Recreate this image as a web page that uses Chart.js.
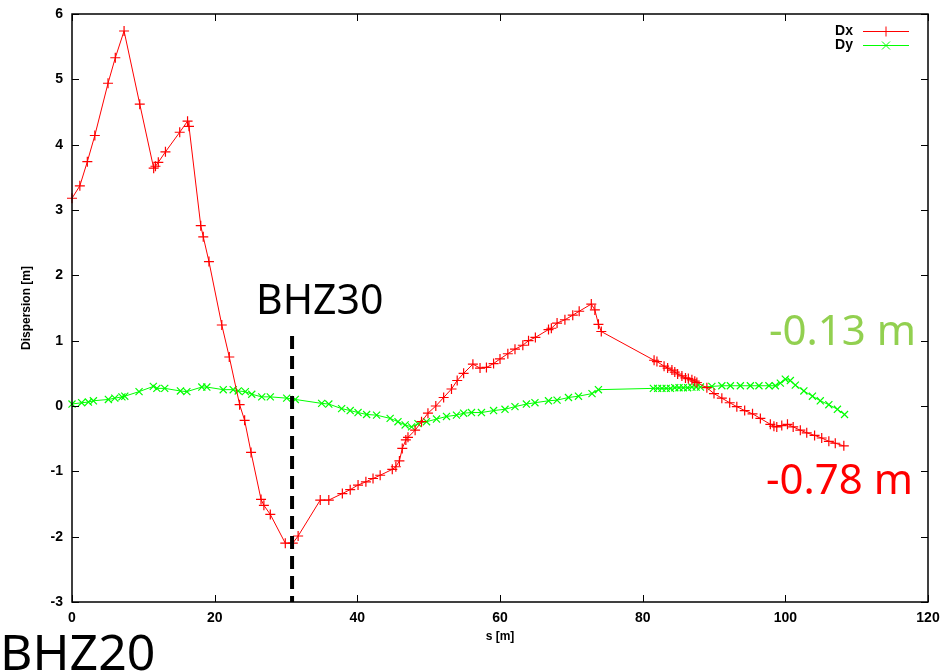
<!DOCTYPE html>
<html>
<head>
<meta charset="utf-8">
<script src="https://cdn.jsdelivr.net/npm/chart.js@4.4.1/dist/chart.umd.min.js"></script>
<style>
  html, body { margin: 0; padding: 0; background: #fff; }
  #wrap { position: relative; width: 945px; height: 672px; }
</style>
</head>
<body>
<div id="wrap"><canvas id="dispChart" width="945" height="672"></canvas></div>
<script>
// horizontal dispersion along the line
const sDx = [0, 1.1, 2.15, 3.2, 5.05, 6.07, 7.3, 9.5, 11.45, 11.7, 12.1, 13.1, 15.1, 16.2, 16.4, 18.05, 18.4, 19.2, 21.0, 22.05,
    23.5, 24.2, 25.1, 26.5, 26.9, 27.8, 29.9, 30.95, 31.7, 34.8, 36.0, 37.9, 39.0, 40.1, 41.2, 42.2, 43.2, 44.9, 45.4, 45.9,
    46.3, 46.8, 47.1, 48.1, 49.0, 49.9, 51.0, 52.1, 53.2, 54.0, 54.9, 56.2, 57.2, 58.1, 59.1, 60.0, 61.1, 62.1, 63.2, 64.0,
    64.96, 66.8, 67.2, 68.0, 69.1, 70.2, 71.1, 72.8, 73.3, 73.8, 74.2, 81.6, 82.0, 83.0, 83.5, 84.1, 84.5, 84.9, 85.5, 86.0,
    86.4, 86.9, 87.3, 87.6, 89.0, 90.0, 91.1, 92.2, 93.2, 94.3, 95.4, 96.5, 97.9, 98.4, 98.8, 99.5, 100.3, 101.1, 102.1, 103.0,
    104.1, 105.1, 106.1, 107.0, 108.2];
const dx = [3.18, 3.37, 3.74, 4.14, 4.94, 5.33, 5.74, 4.62, 3.64, 3.67, 3.73, 3.89, 4.19, 4.36, 4.28, 2.76, 2.59, 2.21, 1.24, 0.75,
    0.02, -0.22, -0.71, -1.43, -1.52, -1.66, -2.10, -2.10, -1.99, -1.44, -1.44, -1.34, -1.28, -1.21, -1.16, -1.11, -1.06, -0.97, -0.93, -0.84,
    -0.65, -0.52, -0.48, -0.37, -0.24, -0.11, 0.0, 0.13, 0.26, 0.39, 0.50, 0.64, 0.58, 0.59, 0.65, 0.72, 0.80, 0.87, 0.93, 1.0,
    1.05, 1.17, 1.19, 1.27, 1.32, 1.39, 1.45, 1.56, 1.47, 1.25, 1.14, 0.70, 0.68, 0.61, 0.58, 0.55, 0.52, 0.49, 0.46, 0.43,
    0.42, 0.40, 0.38, 0.36, 0.28, 0.19, 0.12, 0.05, -0.01, -0.07, -0.12, -0.19, -0.28, -0.31, -0.32, -0.30, -0.28, -0.32, -0.37, -0.41,
    -0.45, -0.49, -0.54, -0.57, -0.61];

// vertical dispersion
const sDy = [0, 1.35, 2.3, 3.0, 5.1, 6.0, 7.0, 7.4, 9.4, 11.4, 11.9, 13.0, 15.2, 16.1, 18.2, 18.9, 21.2, 22.6, 23.3, 24.3,
    25.2, 26.6, 27.8, 30.1, 31.3, 35.0, 36.0, 37.8, 39.0, 40.1, 41.3, 42.7, 44.6, 45.7, 46.7, 47.6, 48.5, 49.7, 51.1, 52.5,
    53.9, 54.9, 56.0, 57.4, 59.1, 60.7, 62.1, 63.7, 64.9, 66.8, 68.0, 69.6, 71.0, 72.9, 73.8, 81.5, 82.1, 82.7, 83.3, 83.9,
    84.5, 85.1, 85.7, 86.3, 86.9, 87.5, 88.1, 89.7, 91.1, 92.3, 93.7, 95.1, 96.3, 97.7, 98.6, 99.3, 100.0, 100.7, 101.4, 102.6,
    103.8, 104.9, 106.1, 107.3, 108.3];
const dy = [0.03, 0.05, 0.06, 0.08, 0.10, 0.12, 0.14, 0.15, 0.22, 0.30, 0.27, 0.27, 0.23, 0.22, 0.29, 0.29, 0.25, 0.25, 0.23, 0.22,
    0.18, 0.14, 0.14, 0.12, 0.10, 0.04, 0.03, -0.04, -0.07, -0.10, -0.13, -0.14, -0.19, -0.24, -0.29, -0.32, -0.27, -0.24, -0.20, -0.16,
    -0.14, -0.11, -0.10, -0.10, -0.07, -0.05, -0.01, 0.03, 0.05, 0.08, 0.09, 0.13, 0.15, 0.19, 0.25, 0.27, 0.27, 0.27, 0.27, 0.27,
    0.28, 0.28, 0.28, 0.28, 0.29, 0.29, 0.29, 0.30, 0.31, 0.31, 0.31, 0.31, 0.31, 0.31, 0.31, 0.35, 0.41, 0.39, 0.32, 0.23,
    0.15, 0.08, 0.02, -0.05, -0.13];

// BHZ30 location and the span of its marker line
const bhz30S = [30.85, 30.85];
const bhz30Y = [1.07, -3];

const xTicks = [0, 20, 40, 60, 80, 100, 120];
const yTicks = [-3, -2, -1, 0, 1, 2, 3, 4, 5, 6];

const zip = (xs, ys) => xs.map((x, i) => ({x: x, y: ys[i]}));

const tickFont = {family: '"Liberation Sans Narrow", "Liberation Sans", Arial, sans-serif', size: 14, weight: 'bold'};

// gnuplot-like frame, inward ticks, axis titles, legend and notes
const framePlugin = {
    id: 'frame',
    afterDraw(chart) {
        const ctx = chart.ctx;
        const a = chart.chartArea;
        const xs = chart.scales.x, ys = chart.scales.y;
        ctx.save();
        ctx.strokeStyle = '#000';
        ctx.lineWidth = 1.5;
        ctx.strokeRect(a.left, a.top, a.right - a.left, a.bottom - a.top);

        ctx.lineWidth = 1;
        ctx.beginPath();
        xTicks.forEach(v => {
            const px = Math.round(xs.getPixelForValue(v)) + 0.5;
            ctx.moveTo(px, a.bottom); ctx.lineTo(px, a.bottom - 7);
            ctx.moveTo(px, a.top); ctx.lineTo(px, a.top + 7);
        });
        yTicks.forEach(v => {
            const py = Math.round(ys.getPixelForValue(v)) + 0.5;
            ctx.moveTo(a.left, py); ctx.lineTo(a.left + 7, py);
            ctx.moveTo(a.right, py); ctx.lineTo(a.right - 7, py);
        });
        ctx.stroke();

        // axis titles
        ctx.fillStyle = '#000';
        ctx.font = 'bold 12px "Liberation Sans Narrow", "Liberation Sans", Arial, sans-serif';
        ctx.textAlign = 'center';
        ctx.textBaseline = 'middle';
        ctx.fillText('s [m]', (a.left + a.right) / 2, 637);
        ctx.save();
        ctx.translate(27, (a.top + a.bottom) / 2);
        ctx.rotate(-Math.PI / 2);
        ctx.fillText('Dispersion [m]', 0, 0);
        ctx.restore();

        // legend
        ctx.font = 'bold 14px "Liberation Sans Narrow", "Liberation Sans", Arial, sans-serif';
        ctx.textAlign = 'right';
        const items = [
            {label: 'Dx', color: '#ff0000', y: 31, style: 'plus'},
            {label: 'Dy', color: '#00ff00', y: 45, style: 'x'}
        ];
        items.forEach(it => {
            ctx.fillStyle = '#000';
            ctx.fillText(it.label, 853, it.y);
            ctx.strokeStyle = it.color;
            ctx.lineWidth = 1;
            ctx.beginPath();
            ctx.moveTo(863, it.y + 0.5); ctx.lineTo(909, it.y + 0.5);
            if (it.style === 'plus') {
                ctx.moveTo(881, it.y + 0.5); ctx.lineTo(891, it.y + 0.5);
                ctx.moveTo(886, it.y - 4.5); ctx.lineTo(886, it.y + 5.5);
            } else {
                ctx.moveTo(882, it.y - 3.5); ctx.lineTo(890, it.y + 4.5);
                ctx.moveTo(890, it.y - 3.5); ctx.lineTo(882, it.y + 4.5);
            }
            ctx.stroke();
        });

        // annotations
        ctx.textAlign = 'left';
        ctx.textBaseline = 'alphabetic';
        ctx.fillStyle = '#000';
        ctx.font = '41px "Noto Sans", "Open Sans", sans-serif';
        ctx.fillText('BHZ30', 256, 314);
        ctx.font = '50px "Noto Sans", "Open Sans", sans-serif';
        ctx.fillText('BHZ20', 0, 670);
        ctx.font = '42px "Noto Sans", "Open Sans", sans-serif';
        ctx.fillStyle = '#92d050';
        ctx.fillText('-0.13 m', 769, 345);
        ctx.fillStyle = '#ff0000';
        ctx.fillText('-0.78 m', 766, 494);
        ctx.restore();
    }
};

const ctx = document.getElementById('dispChart').getContext('2d');
const dispChart = new Chart(ctx, {
    type: 'scatter',
    data: {
        datasets: [
            {
                label: 'BHZ30',
                data: zip(bhz30S, bhz30Y),
                showLine: true,
                borderColor: '#000',
                borderWidth: 4,
                borderDash: [13, 7],
                pointRadius: 0,
                order: 0
            },
            {
                label: 'Dx',
                data: zip(sDx, dx),
                showLine: true,
                borderColor: '#ff0000',
                backgroundColor: '#ff0000',
                borderWidth: 1,
                pointStyle: 'cross',
                pointRadius: 5,
                pointBorderWidth: 1.2,
                order: 1
            },
            {
                label: 'Dy',
                data: zip(sDy, dy),
                showLine: true,
                borderColor: '#00ff00',
                backgroundColor: '#00ff00',
                borderWidth: 1,
                pointStyle: 'crossRot',
                pointRadius: 5,
                pointBorderWidth: 1.2,
                order: 2
            }
        ]
    },
    options: {
        responsive: false,
        animation: false,
        clip: false,
        layout: {padding: {left: 0, top: 14, right: 17, bottom: 0}},
        plugins: {legend: {display: false}, tooltip: {enabled: false}},
        scales: {
            x: {
                type: 'linear',
                min: 0, max: 120,
                afterFit(scale) {
                    scale.height = 70;
                    scale.paddingLeft = 0;
                    scale.paddingRight = 0;
                },
                afterBuildTicks(scale) { scale.ticks = xTicks.map(v => ({value: v})); },
                grid: {display: false, drawTicks: false},
                border: {display: false},
                ticks: {color: '#000', font: tickFont, padding: 8, maxRotation: 0}
            },
            y: {
                type: 'linear',
                min: -3, max: 6,
                afterFit(scale) {
                    scale.width = 72;
                    scale.paddingTop = 0;
                    scale.paddingBottom = 0;
                },
                afterBuildTicks(scale) { scale.ticks = yTicks.map(v => ({value: v})); },
                grid: {display: false, drawTicks: false},
                border: {display: false},
                ticks: {color: '#000', font: tickFont, padding: 9}
            }
        }
    },
    plugins: [framePlugin]
});
</script>
</body>
</html>
